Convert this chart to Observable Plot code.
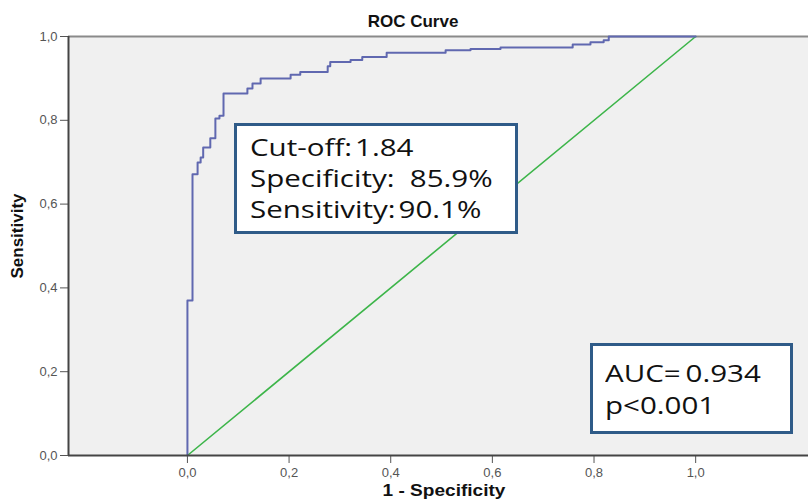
<!DOCTYPE html>
<html>
<head>
<meta charset="utf-8">
<script src="https://cdn.jsdelivr.net/npm/d3@7"></script>
<script src="https://cdn.jsdelivr.net/npm/@observablehq/plot@0.6"></script>
<style>
  html, body { margin: 0; padding: 0; background: #fff; }
  #wrap { position: relative; width: 808px; height: 503px; overflow: hidden; }
  #chart { position: absolute; left: 0; top: 0; }
  .ttl { position: absolute; font-family: "Liberation Sans", Arial, sans-serif; font-weight: bold; color: #111; white-space: nowrap; }
  .box { position: absolute; background: #fff; border: 3px solid #2f5b88; box-sizing: border-box;
         font-family: "Open Sans", "Noto Sans", sans-serif; color: #111; white-space: nowrap; }
  .box div { transform: scaleX(1.23); transform-origin: left center; }
</style>
</head>
<body>
<div id="wrap">
  <div id="chart"></div>
  <div class="ttl" id="title" style="left:0;width:826px;text-align:center;top:12px;font-size:17px;">ROC Curve</div>
  <div class="ttl" id="xlab" style="left:0;width:888px;text-align:center;top:481px;font-size:17px;transform:scaleX(1.12);transform-origin:444px 0;">1 - Specificity</div>
  <div class="ttl" id="ylab" style="left:18px;top:236px;font-size:17px;transform:translate(-50%,-50%) rotate(-90deg);">Sensitivity</div>
  <div class="box" id="box1" style="left:234px;top:123px;width:284px;height:111px;padding:5px 0 0 13px;font-size:24px;line-height:31px;">
    <div>Cut-off:&#8202;1.84</div>
    <div>Specificity:&nbsp; 85.9%</div>
    <div>Sensitivity:&#8202;90.1%</div>
  </div>
  <div class="box" id="box2" style="left:590px;top:343px;width:203px;height:91px;padding:11px 0 0 12px;font-size:24px;line-height:32px;">
    <div>AUC=&#8201;0.934</div>
    <div>p&lt;0.001</div>
  </div>
</div>
<script>
// ROC curve corner points (1 - specificity, sensitivity)
const fpr = [0, 0, 0.010, 0.020, 0.026, 0.031, 0.045, 0.055, 0.063, 0.071,
             0.118, 0.128, 0.144, 0.203, 0.222, 0.276, 0.281, 0.321, 0.344, 0.392,
             0.508, 0.557, 0.616, 0.758, 0.793, 0.819, 0.829, 1.0];
const tpr = [0, 0.370, 0.671, 0.699, 0.711, 0.735, 0.757, 0.804, 0.811, 0.864,
             0.876, 0.888, 0.900, 0.909, 0.915, 0.929, 0.939, 0.944, 0.951, 0.961,
             0.967, 0.970, 0.974, 0.981, 0.986, 0.991, 1.0, 1.0];
// reference diagonal
const diagX = [0, 1];
const diagY = [0, 1];
// ticks
const xTicks = [0, 0.2, 0.4, 0.6, 0.8, 1.0];
const yTicks = [0, 0.2, 0.4, 0.6, 0.8, 1.0];
const xDomain = [-0.234, 1.222];
const yDomain = [0, 1];

const roc = fpr.map((f, i) => ({x: f, y: tpr[i]}));
const diag = diagX.map((d, i) => ({x: d, y: diagY[i]}));
const fmt = d => d.toFixed(1).replace(".", ",");

const chart = Plot.plot({
  width: 808,
  height: 503,
  marginLeft: 68,
  marginRight: 0,
  marginTop: 36,
  marginBottom: 48,
  style: {background: "transparent", fontFamily: "'Liberation Sans', Arial, sans-serif", fontSize: "13px", color: "#555"},
  x: {domain: xDomain, ticks: xTicks, tickFormat: fmt, tickSize: 8, tickPadding: 4, label: null},
  y: {domain: yDomain, ticks: yTicks, tickFormat: fmt, tickSize: 8, tickPadding: 3, label: null},
  marks: [
    Plot.frame({fill: "#f0f0f0", stroke: null}),
    Plot.ruleY([1], {stroke: "#8a8a8a", strokeWidth: 2}),
    Plot.line(diag, {x: "x", y: "y", stroke: "#3db54a", strokeWidth: 1.6}),
    Plot.line(roc, {x: "x", y: "y", curve: "step-after", stroke: "#6068b0", strokeWidth: 2}),
    Plot.ruleY([0], {stroke: "#444", strokeWidth: 2}),
    Plot.ruleX([xDomain[0]], {stroke: "#444", strokeWidth: 2})
  ]
});
document.getElementById("chart").appendChild(chart);
</script>
</body>
</html>
